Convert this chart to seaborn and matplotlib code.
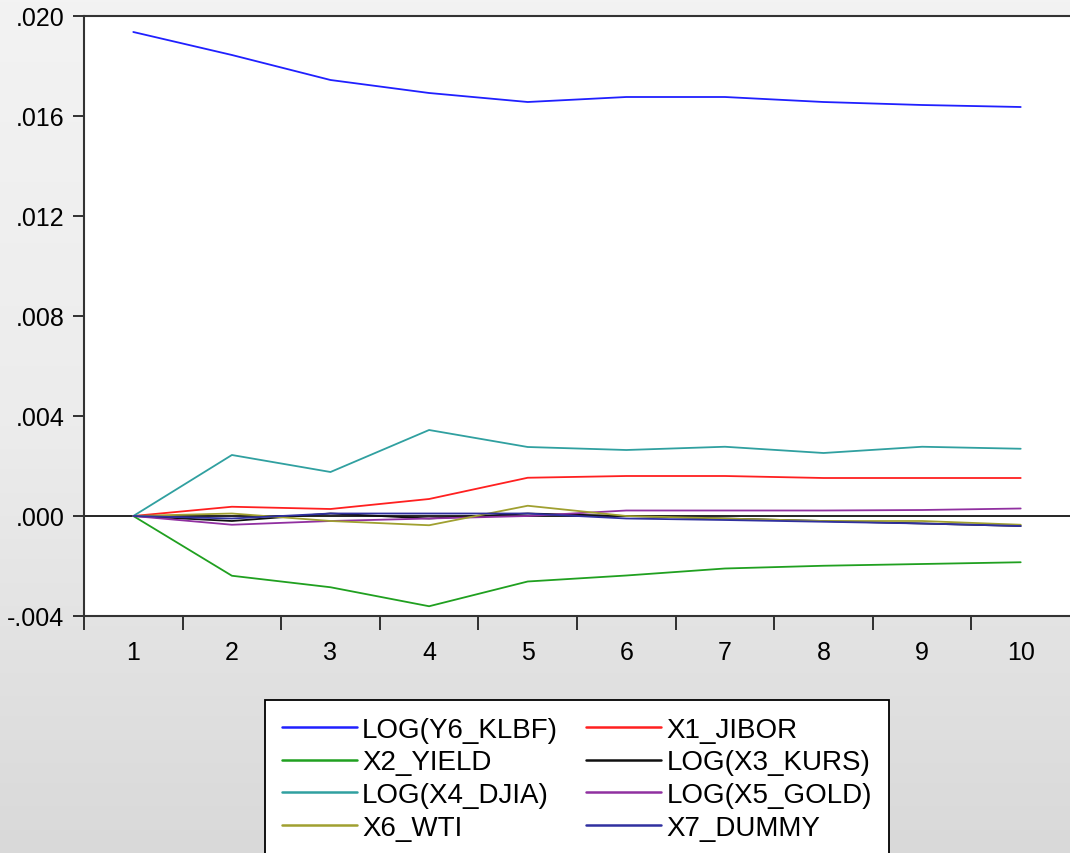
import numpy as np
import pandas as pd
import seaborn as sns
from matplotlib import pyplot as plt
from matplotlib.colors import LinearSegmentedColormap

# Respuestas al impulso (periodos 1..10)
periodos = [1, 2, 3, 4, 5, 6, 7, 8, 9, 10]
series = ["LOG(Y6_KLBF)", "X1_JIBOR", "X2_YIELD", "LOG(X3_KURS)",
          "LOG(X4_DJIA)", "LOG(X5_GOLD)", "X6_WTI", "X7_DUMMY"]

y6_klbf = [0.01936, 0.01844, 0.01744, 0.01692, 0.01656, 0.01676, 0.01676, 0.01656, 0.01644, 0.01636]
x1_jibor = [0.0, 0.00037, 0.00028, 0.00068, 0.00153, 0.00160, 0.00160, 0.00152, 0.00152, 0.00152]
x2_yield = [0.0, -0.00239, -0.00285, -0.00361, -0.00262, -0.00238, -0.00210, -0.00199, -0.00192, -0.00185]
x3_kurs = [0.0, -0.00020, 0.00010, -0.00010, 0.00010, 0.0, -0.00010, -0.00020, -0.00030, -0.00040]
x4_djia = [0.0, 0.00244, 0.00176, 0.00344, 0.00276, 0.00264, 0.00277, 0.00252, 0.00277, 0.00269]
x5_gold = [0.0, -0.00035, -0.00020, -0.00010, 0.0, 0.00022, 0.00022, 0.00022, 0.00024, 0.00030]
x6_wti = [0.0, 0.00010, -0.00020, -0.00037, 0.00041, 0.0, -0.00010, -0.00020, -0.00020, -0.00035]
x7_dummy = [0.0, -0.00010, 0.00010, 0.00010, 0.00010, -0.00010, -0.00016, -0.00023, -0.00030, -0.00040]

colores = ["#2020ff", "#ff2020", "#20a020", "#101010",
           "#30a0a0", "#9030a0", "#a0a030", "#3030a0"]

valores = [y6_klbf, x1_jibor, x2_yield, x3_kurs, x4_djia, x5_gold, x6_wti, x7_dummy]
df = pd.DataFrame({s: v for s, v in zip(series, valores)}, index=periodos)
df.index.name = "periodo"
largo = df.reset_index().melt(id_vars="periodo", var_name="serie", value_name="valor")

sns.set_theme(style="white")
plt.rcParams['font.family'] = ['Liberation Sans', 'DejaVu Sans']
plt.rcParams['text.color'] = 'black'
plt.rcParams['xtick.color'] = 'black'
plt.rcParams['ytick.color'] = 'black'

fig = plt.figure(figsize=(10.7, 8.54), dpi=100)

# fondo gris degradado
bg = fig.add_axes([0, 0, 1, 1], zorder=-10)
grad = np.linspace(0, 1, 256).reshape(-1, 1)
cmap_bg = LinearSegmentedColormap.from_list("bg", ["#f3f3f3", "#ececec", "#d9d9d9"])
bg.imshow(grad, aspect="auto", cmap=cmap_bg, extent=[0, 1, 0, 1], origin="upper")
bg.set_axis_off()

ax = fig.add_axes([84 / 1070, 237 / 854, 986 / 1070, 600 / 854])
ax.set_facecolor("white")

sns.lineplot(data=largo, x="periodo", y="valor", hue="serie", hue_order=series,
             palette=colores, linewidth=1.3, ax=ax, legend=True)
ax.axhline(0, color="black", linewidth=1.2, zorder=0.5)

ax.set_xlim(0.5, 10.5)
ax.set_ylim(-0.004, 0.020)
yt = [-0.004, 0.0, 0.004, 0.008, 0.012, 0.016, 0.020]
ax.set_yticks(yt)
ax.set_yticklabels(["-.004", ".000", ".004", ".008", ".012", ".016", ".020"])
ax.set_xticks(periodos)
ax.set_xticklabels([str(p) for p in periodos])
ax.set_xticks([p + 0.5 for p in [0] + periodos[:-1]], minor=True)
ax.tick_params(axis="x", which="major", length=0, pad=17, labelsize=18)
ax.tick_params(axis="x", which="minor", length=10, width=1.3, direction="out", color="#222222", bottom=True)
ax.tick_params(axis="y", length=8, width=1.3, direction="out", color="#222222", left=True, labelsize=18, pad=6)
ax.set_xlabel("")
ax.set_ylabel("")
for lado in ["left", "bottom", "top"]:
    ax.spines[lado].set_color("#333333")
    ax.spines[lado].set_linewidth(1.5)
ax.spines["right"].set_visible(False)

h, l = ax.get_legend_handles_labels()
ax.get_legend().remove()
orden = [0, 2, 4, 6, 1, 3, 5, 7]  # filas: de izquierda a derecha
leg = fig.legend([h[i] for i in orden], [l[i] for i in orden],
                 loc="upper left", bbox_to_anchor=(265 / 1070, 1 - 701 / 854),
                 ncol=2, fontsize=20, frameon=True, fancybox=False,
                 edgecolor="black", framealpha=1, handlelength=2.7,
                 handletextpad=0.2, columnspacing=1.0, labelspacing=0.24,
                 borderpad=0.6, borderaxespad=0)
leg.get_frame().set_linewidth(1.3)
for ln in leg.get_lines():
    ln.set_linewidth(1.8)

plt.savefig("out.png", dpi=100)
